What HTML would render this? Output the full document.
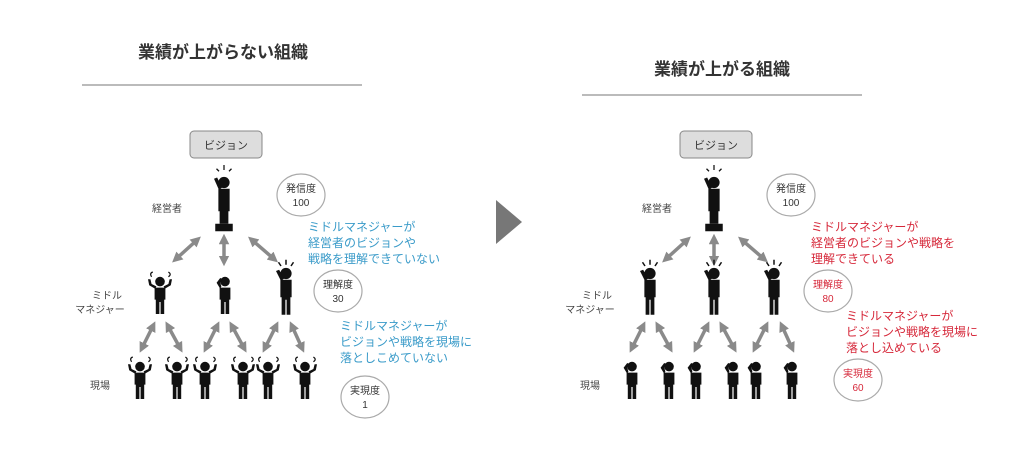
<!DOCTYPE html><html><head><meta charset="utf-8"><style>
body{margin:0;background:#fff;width:1023px;height:462px;overflow:hidden}
svg{display:block}
text{font-family:"Liberation Sans","Noto Sans CJK JP",sans-serif}
</style></head><body>
<svg width="1023" height="462" viewBox="0 0 1023 462" xmlns="http://www.w3.org/2000/svg">
<defs>
<marker id="ah" viewBox="0 0 10 10" refX="5" refY="5" markerWidth="3" markerHeight="3" orient="auto-start-reverse"><path d="M0,0 L10,5 L0,10 z" fill="#8a8a8a"/></marker>
<g id="p"><g transform="scale(1.25)"><circle cx="0" cy="-14" r="4.5" fill="#111"/><path d="M-4.5,-9 h9 v14 h-1 v14 h-3 v-12 h-1 v12 h-3 v-14 h-1z" fill="#111"/><path d="M-4,-8 l-4,-8 l2.5,-1 l4,7z" fill="#111"/><path d="M0,-21 v-4 M-4,-20 l-2,-3 M4,-20 l2,-3" stroke="#111" stroke-width="1.2"/></g></g>
<g id="w"><g transform="scale(1.2)"><circle cx="0" cy="-12" r="4" fill="#111"/><path d="M-4.5,-7 h9 v10 h-1 v12 h-3 v-10 h-1 v10 h-3 v-12 h-1z" fill="#111"/><path d="M-4,-6 l-5,-3 l-1,-5 2,0 1,4 4,2z M4,-6 l5,-3 l1,-5 -2,0 -1,4 -4,2z" fill="#111"/><path d="M-7,-16 q-2,-3 1,-4 M7,-16 q3,-2 0,-4" stroke="#111" stroke-width="1" fill="none"/></g></g>
<g id="s"><g transform="scale(1.2)"><circle cx="0" cy="-12" r="4" fill="#111"/><path d="M-4.5,-7 h9 v10 h-1 v12 h-3 v-10 h-1 v10 h-3 v-12 h-1z" fill="#111"/><path d="M-4,-6 l-3,-5 l3,-4 l2,1 l-2,3 l1,3z" fill="#111"/></g></g>
<g id="ex"><g transform="scale(1.25)"><circle cx="0" cy="-18" r="4.5" fill="#111"/><path d="M-4.5,-13 h9 v18 h-1 v10 h-7 v-10 h-1z" fill="#111"/><path d="M-4,-12 l-4,-9 l2.5,-1 l4,8z" fill="#111"/><rect x="-7" y="15" width="14" height="6" fill="#111"/><path d="M0,-28 v-4 M-4,-27 l-2,-2 M4,-27 l2,-2" stroke="#111" stroke-width="1"/></g></g>
</defs>
<g fill="#333" font-size="17" font-weight="bold" text-anchor="middle">
<text x="223" y="58">業績が上がらない組織</text>
<text x="722" y="75">業績が上がる組織</text></g>
<line x1="82" y1="85" x2="362" y2="85" stroke="#777"/>
<line x1="582" y1="95" x2="862" y2="95" stroke="#777"/>
<polygon points="496,200 522,222 496,244" fill="#777"/>

<g id="L">
<rect x="190" y="131" width="72" height="27" rx="4" fill="#ddd" stroke="#888"/>
<text x="226" y="149" font-size="11" text-anchor="middle" fill="#333">ビジョン</text>
<text x="167" y="212" font-size="10" text-anchor="middle" fill="#444">経営者</text>
<text x="107" y="299" font-size="10" text-anchor="middle" fill="#444">ミドル</text>
<text x="100" y="313" font-size="10" text-anchor="middle" fill="#444">マネジャー</text>
<text x="100" y="389" font-size="10" text-anchor="middle" fill="#444">現場</text>
<g stroke="#8a8a8a" stroke-width="3.5" marker-start="url(#ah)" marker-end="url(#ah)">
<line x1="197" y1="240" x2="176" y2="259"/><line x1="224" y1="239" x2="224" y2="261"/><line x1="252" y1="240" x2="274" y2="259"/>
<line x1="153" y1="326" x2="142" y2="348"/><line x1="168" y1="326" x2="180" y2="348"/>
<line x1="217" y1="326" x2="206" y2="348"/><line x1="232" y1="326" x2="244" y2="348"/>
<line x1="276" y1="326" x2="265" y2="348"/><line x1="292" y1="326" x2="302" y2="348"/>
</g>
</g>
<use href="#L" x="490"/>

<use href="#ex" x="224" y="205"/>
<use href="#w" x="160" y="296"/><use href="#s" x="225" y="296"/><use href="#p" x="286" y="291"/>
<use href="#w" x="140" y="381"/><use href="#w" x="177" y="381"/><use href="#w" x="205" y="381"/><use href="#w" x="243" y="381"/><use href="#w" x="268" y="381"/><use href="#w" x="305" y="381"/>
<use href="#ex" x="714" y="205"/>
<use href="#p" x="650" y="291"/><use href="#p" x="714" y="291"/><use href="#p" x="774" y="291"/>
<use href="#s" x="632" y="381"/><use href="#s" x="669" y="381"/><use href="#s" x="696" y="381"/><use href="#s" x="733" y="381"/><use href="#s" x="756" y="381"/><use href="#s" x="792" y="381"/>

<g fill="#fff" stroke="#aaa" stroke-width="1.2">
<ellipse cx="301" cy="195" rx="24" ry="21"/><ellipse cx="338" cy="291" rx="24" ry="21"/><ellipse cx="365" cy="397" rx="24" ry="21"/>
<ellipse cx="791" cy="195" rx="24" ry="21"/><ellipse cx="828" cy="291" rx="24" ry="21"/><ellipse cx="858" cy="380" rx="24" ry="21"/>
</g>
<g font-size="10" text-anchor="middle" fill="#333">
<text x="301" y="192">発信度</text><text x="301" y="206">100</text>
<text x="338" y="288">理解度</text><text x="338" y="302">30</text>
<text x="365" y="394">実現度</text><text x="365" y="408">1</text>
<text x="791" y="192">発信度</text><text x="791" y="206">100</text>
</g>
<g font-size="10" text-anchor="middle" fill="#d6283a">
<text x="828" y="288">理解度</text><text x="828" y="302">80</text>
<text x="858" y="377">実現度</text><text x="858" y="391">60</text>
</g>
<g font-size="12" fill="#3a9bc9">
<text x="308" y="231">ミドルマネジャーが</text><text x="308" y="247">経営者のビジョンや</text><text x="308" y="263">戦略を理解できていない</text>
<text x="340" y="330">ミドルマネジャーが</text><text x="340" y="346">ビジョンや戦略を現場に</text><text x="340" y="362">落としこめていない</text>
</g>
<g font-size="12" fill="#d6283a">
<text x="811" y="231">ミドルマネジャーが</text><text x="811" y="247">経営者のビジョンや戦略を</text><text x="811" y="263">理解できている</text>
<text x="846" y="320">ミドルマネジャーが</text><text x="846" y="336">ビジョンや戦略を現場に</text><text x="846" y="352">落とし込めている</text>
</g>
</svg>
</body></html>
